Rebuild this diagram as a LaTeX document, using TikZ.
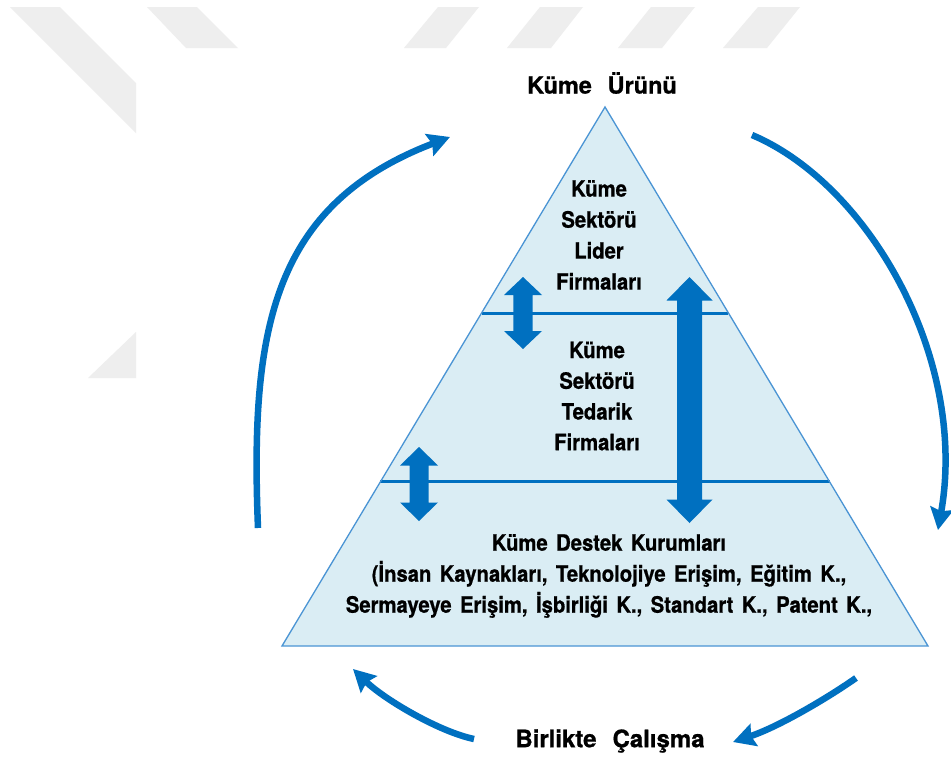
\documentclass[tikz,border=0pt]{standalone}
\usepackage{fontspec}
\setmainfont{TeX Gyre Heros}
\newfontfamily\lblfont{TeX Gyre Heros}[WordSpace=1.5, FakeStretch=0.9, BoldFeatures={FakeBold=0.8}]
\newfontfamily\ttlfont{TeX Gyre Heros}[WordSpace=2.4, BoldFeatures={FakeBold=0.8}]
\usetikzlibrary{arrows.meta,calc}
\definecolor{mblue}{HTML}{0070C0}
\definecolor{tfill}{HTML}{DAEDF4}
\definecolor{tline}{HTML}{4A94D4}
\definecolor{wm}{HTML}{EEEEEE}
\newcommand\dblarr[6]{%
  \fill[blk] (#1,#2) -- ++(#4,#6) -- ++({#5-#4},0) -- ++(0,{#3-#2-2*#6})
    -- ++({#4-#5},0) -- ++(-#4,#6) -- ++(-#4,-#6) -- ++({#4-#5},0)
    -- ++(0,{-(#3-#2-2*#6)}) -- ++({#5-#4},0) -- cycle;}
\begin{document}
\begin{tikzpicture}[x=1pt,y=-1pt,
  lbl/.style={font=\lblfont\bfseries\fontsize{22.5}{31}\selectfont, align=center, inner sep=0pt},
  ttl/.style={font=\ttlfont\bfseries\fontsize{23.5}{28}\selectfont, inner sep=0pt},
  cyc/.style={draw=mblue, line width=6.5pt, -{Stealth[length=22pt,width=23pt,inset=3pt]}},
  blk/.style={fill=mblue},
  divider/.style={draw=mblue, line width=3pt},
  wmark/.style={fill=wm}]
\useasboundingbox[fill=white] (0,0) rectangle (951,758);
% watermark
\fill[wmark] (10,7) -- (60,7) -- (136,83) -- (136,133) -- cycle;
\fill[wmark] (147,7) -- (197,7) -- (238,48) -- (186,48) -- cycle;
\fill[wmark] (88,378) -- (136,378) -- (136,332) -- cycle;
\fill[wmark] (438,7) -- (479,7) -- (446,48) -- (404,48) -- cycle;
\fill[wmark] (540,7) -- (583,7) -- (551,48) -- (507,48) -- cycle;
\fill[wmark] (651,7) -- (695,7) -- (662,48) -- (618,48) -- cycle;
\fill[wmark] (758,7) -- (800,7) -- (767,48) -- (723,48) -- cycle;
% pyramid
\coordinate (apex) at (605,107);
\coordinate (bl) at (282,646);
\coordinate (br) at (928,646);
\fill[tfill] (apex) -- (bl) -- (br) -- cycle;
\coordinate (d1l) at ($(apex)!0.3822!(bl)$);
\coordinate (d1r) at ($(apex)!0.3822!(br)$);
\coordinate (d2l) at ($(apex)!0.6957!(bl)$);
\coordinate (d2r) at ($(apex)!0.6957!(br)$);
\draw[divider] (d1l) -- (d1r);
\draw[divider] (d2l) -- (d2r);
\draw[tline, line width=1.3pt, line join=miter] (apex) -- (bl) -- (br) -- cycle;
% block arrows
\dblarr{523}{277}{349}{19}{9.7}{18}
\dblarr{419}{447}{521}{19}{9.5}{18.5}
\dblarr{689.5}{277}{523}{23}{12.5}{23.5}
% texts
\node[ttl] (urun) at (602,83) {Küme Ürünü};
\node[lbl] (lider) at (599,235) {Küme\\Sektörü\\Lider\\Firmaları};
\node[lbl, font=\lblfont\bfseries\fontsize{22.5}{30.7}\selectfont] (tedarik) at (597,396) {Küme\\Sektörü\\Tedarik\\Firmaları};
\node[lbl] (destek) at (609,576) {Küme Destek Kurumları\\(İnsan Kaynakları, Teknolojiye Erişim, Eğitim K.,\\Sermayeye Erişim, İşbirliği K., Standart K., Patent K.,};
\node[ttl, font=\ttlfont\bfseries\fontsize{24}{28}\selectfont] (birlikte) at (610,741) {Birlikte Çalışma};
% cycle arrows
\coordinate (a1s) at (258,528); \coordinate (a1e) at (450,137);
\coordinate (a2s) at (752,135); \coordinate (a2e) at (938,530);
\coordinate (a3s) at (856,678); \coordinate (a3e) at (733,742);
\coordinate (a4s) at (474,739); \coordinate (a4e) at (353,669);
\draw[cyc] (a1s) .. controls (250,330) and (272,205) .. (a1e);
\draw[cyc] (a2s) .. controls (870,185) and (968,360) .. (a2e);
\draw[cyc] (a3s) .. controls (826,699) and (778,727) .. (a3e);
\draw[cyc] (a4s) .. controls (440,732) and (385,700) .. (a4e);
\end{tikzpicture}
\end{document}
